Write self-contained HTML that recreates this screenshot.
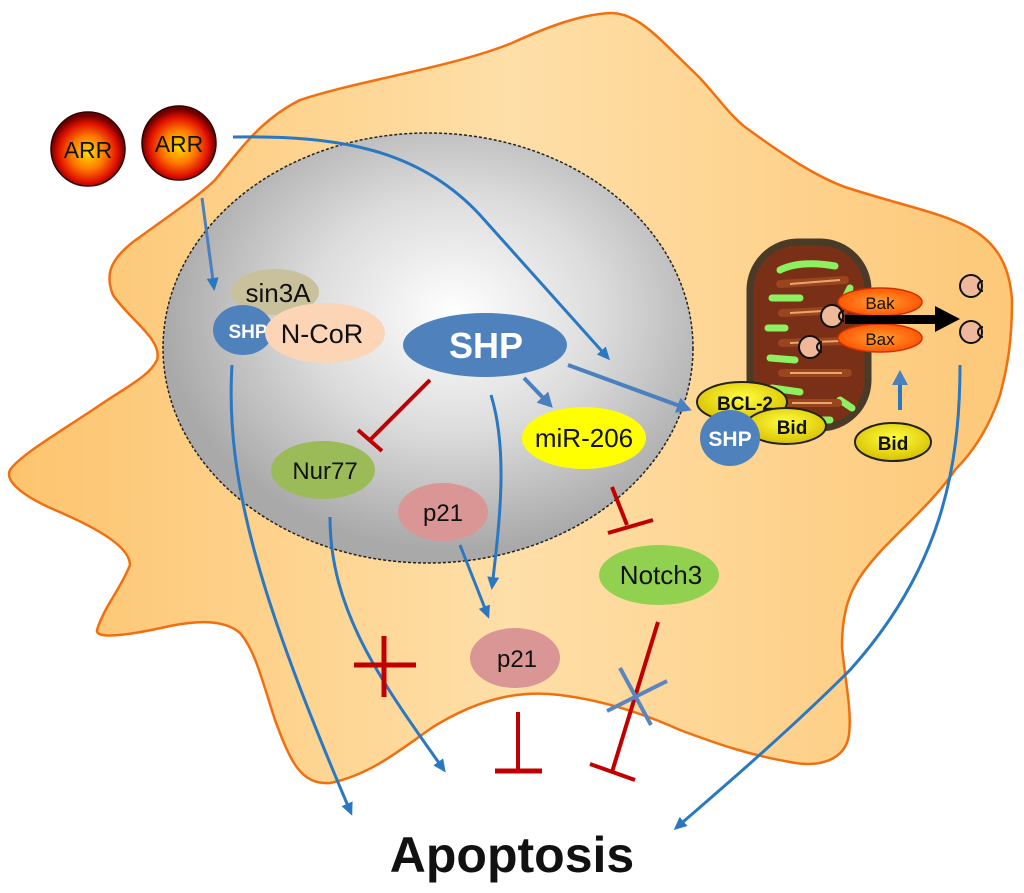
<!DOCTYPE html>
<html><head><meta charset="utf-8"><style>
html,body{margin:0;padding:0;background:#fff;}
svg{display:block;}
text{font-family:"Liberation Sans","DejaVu Sans",sans-serif;}
</style></head><body>
<svg width="1024" height="893" viewBox="0 0 1024 893" xmlns="http://www.w3.org/2000/svg">
<defs>
<radialGradient id="arr" cx="50%" cy="55%" r="50%">
<stop offset="0" stop-color="#ffe000"/><stop offset="0.45" stop-color="#ff7a00"/><stop offset="0.8" stop-color="#e01000"/><stop offset="1" stop-color="#700000"/>
</radialGradient>
<radialGradient id="nuc" cx="55%" cy="42%" r="55%">
<stop offset="0" stop-color="#ffffff"/><stop offset="0.5" stop-color="#dcdcdc"/><stop offset="1" stop-color="#a9a9a9"/>
</radialGradient>
<linearGradient id="cyto" x1="0" y1="0" x2="1" y2="0">
<stop offset="0" stop-color="#fdc46e"/><stop offset="0.5" stop-color="#fedfa8"/><stop offset="1" stop-color="#fdc878"/>
</linearGradient>
<radialGradient id="bak" cx="50%" cy="50%" r="55%">
<stop offset="0" stop-color="#ffa030"/><stop offset="1" stop-color="#ff5000"/>
</radialGradient>
<radialGradient id="yel" cx="50%" cy="40%" r="60%">
<stop offset="0" stop-color="#ffff40"/><stop offset="1" stop-color="#d8c000"/>
</radialGradient>
<marker id="ah" markerWidth="16" markerHeight="16" refX="10" refY="6" orient="auto" markerUnits="userSpaceOnUse">
<path d="M0,0 L13,6 L0,12 Z" fill="#2a78c2"/>
</marker>
<marker id="ah2" markerWidth="18" markerHeight="18" refX="11" refY="8" orient="auto" markerUnits="userSpaceOnUse">
<path d="M0,0 L15,8 L0,16 Z" fill="#4a7fc0"/>
</marker>
</defs>

<!-- cell -->
<path d="M512,43 C545,28 580,14 612,13 C640,14 660,40 699,77 C720,100 730,115 745,127 C790,160 820,178 845,187 C900,205 940,212 970,228 C1000,245 1010,270 1012,300 C1012,340 1008,365 1000,395 C990,425 975,450 955,470 C935,500 900,530 879,553 C855,580 842,600 842,647 C845,680 852,710 849,735 C845,760 820,768 790,762 C750,755 720,745 680,730 C640,712 600,700 560,695 C520,690 480,698 433,727 C400,750 370,775 330,783 C300,785 290,760 275,720 C262,680 255,650 240,633 C225,620 200,620 170,626 C130,635 95,640 97,630 C105,605 120,590 130,565 C130,545 90,525 55,510 C20,495 5,480 10,470 C20,455 60,432 100,405 C130,385 150,375 157,360 C163,340 130,320 113,295 C105,275 110,260 133,242 C170,215 200,195 215,180 C240,150 260,120 300,100 C360,80 450,68 512,43 Z" fill="url(#cyto)" stroke="#f26f10" stroke-width="2.5"/>

<!-- nucleus -->
<ellipse cx="428" cy="348" rx="265" ry="215" fill="url(#nuc)" stroke="#222" stroke-width="1.5" stroke-dasharray="3,2"/>

<!-- ARR -->
<circle cx="88" cy="149" r="37" fill="url(#arr)" stroke="#300" stroke-width="1.5"/>
<text x="88" y="158" font-size="23" text-anchor="middle" fill="#111">ARR</text>
<circle cx="179" cy="143" r="37" fill="url(#arr)" stroke="#300" stroke-width="1.5"/>
<text x="179" y="152" font-size="23" text-anchor="middle" fill="#111">ARR</text>

<!-- mitochondria -->
<rect x="750" y="242" width="118" height="186" rx="48" fill="#7a3016" stroke="#4a3a28" stroke-width="7"/>
<g stroke="#8df060" stroke-width="7" fill="none" stroke-linecap="round">
<path d="M780,270 Q800,260 835,266"/><path d="M772,298 L800,298"/><path d="M768,328 L785,328"/><path d="M770,358 L795,360"/><path d="M772,388 L800,392"/><path d="M845,298 L850,288"/><path d="M840,400 L852,408"/><path d="M790,420 L830,420"/>
</g>
<g stroke="#9a4420" stroke-width="8" fill="none" stroke-linecap="round">
<path d="M780,284 L845,280"/><path d="M782,313 L845,310"/><path d="M782,343 L845,341"/><path d="M782,373 L848,373"/><path d="M786,403 L838,403"/>
</g>
<g stroke="#e8a868" stroke-width="2" fill="none">
<path d="M790,284 L840,280"/><path d="M790,313 L840,310"/><path d="M790,343 L840,341"/><path d="M790,373 L842,373"/><path d="M792,403 L832,403"/>
</g>

<ellipse cx="880" cy="302" rx="42" ry="14" fill="url(#bak)" stroke="#d03000" stroke-width="1.5"/>
<ellipse cx="880" cy="338" rx="42" ry="14" fill="url(#bak)" stroke="#d03000" stroke-width="1.5"/>
<path d="M845,315 L935,315 L935,306 L960,319 L935,332 L935,324 L845,324 Z" fill="#000"/>
<text x="880" y="309" font-size="17" text-anchor="middle" fill="#111">Bak</text>
<text x="880" y="345" font-size="17" text-anchor="middle" fill="#111">Bax</text>

<g fill="#f0b89a" stroke="#111" stroke-width="2">
<circle cx="832" cy="316" r="11"/><circle cx="810" cy="347" r="11"/><circle cx="971" cy="286" r="11"/><circle cx="971" cy="332" r="11"/>
</g>
<g fill="none" stroke="#111" stroke-width="2">
<path d="M844,311 a5,5 0 1,0 0,10"/><path d="M822,342 a5,5 0 1,0 0,10"/><path d="M983,281 a5,5 0 1,0 0,10"/><path d="M983,327 a5,5 0 1,0 0,10"/>
</g>

<ellipse cx="742" cy="402" rx="45" ry="20" fill="url(#yel)" stroke="#222" stroke-width="2"/>
<text x="745" y="410" font-size="19" font-weight="bold" text-anchor="middle" fill="#111">BCL-2</text>
<ellipse cx="786" cy="426" rx="40" ry="18" fill="url(#yel)" stroke="#222" stroke-width="2"/>
<text x="792" y="434" font-size="19" font-weight="bold" text-anchor="middle" fill="#111">Bid</text>
<ellipse cx="730" cy="438" rx="30" ry="28" fill="#4f81bd"/>
<text x="730" y="446" font-size="21" font-weight="bold" text-anchor="middle" fill="#fff">SHP</text>
<ellipse cx="893" cy="442" rx="38" ry="19" fill="url(#yel)" stroke="#222" stroke-width="2"/>
<text x="893" y="450" font-size="19" font-weight="bold" text-anchor="middle" fill="#111">Bid</text>
<line x1="900" y1="410" x2="900" y2="374" stroke="#2a78c2" stroke-width="4" marker-end="url(#ah2)"/>

<!-- nuclear nodes -->
<ellipse cx="275" cy="292" rx="44" ry="23" fill="#c9c09c"/>
<ellipse cx="243" cy="330" rx="30" ry="25" fill="#4f81bd"/>
<text x="248" y="338" font-size="19" font-weight="bold" text-anchor="middle" fill="#fff">SHP</text>
<text x="278" y="302" font-size="26" text-anchor="middle" fill="#111">sin3A</text>
<ellipse cx="325" cy="333" rx="60" ry="30" fill="#fbd5b5"/>
<text x="322" y="343" font-size="27" text-anchor="middle" fill="#111">N-CoR</text>
<ellipse cx="485" cy="345" rx="82" ry="32" fill="#4f81bd"/>
<text x="486" y="358" font-size="36" font-weight="bold" text-anchor="middle" fill="#fff">SHP</text>
<ellipse cx="323" cy="470" rx="52" ry="29" fill="#9bbb59"/>
<text x="325" y="479" font-size="24" text-anchor="middle" fill="#111">Nur77</text>
<ellipse cx="443" cy="512" rx="45" ry="29" fill="#d99694"/>
<text x="443" y="521" font-size="24" text-anchor="middle" fill="#111">p21</text>
<ellipse cx="584" cy="438" rx="62" ry="31" fill="#ffff00"/>
<text x="584" y="447" font-size="26" text-anchor="middle" fill="#111">miR-206</text>
<ellipse cx="659" cy="575" rx="60" ry="30" fill="#92d050"/>
<text x="661" y="584" font-size="26" text-anchor="middle" fill="#111">Notch3</text>
<ellipse cx="515" cy="658" rx="45" ry="30" fill="#d99694"/>
<text x="517" y="667" font-size="24" text-anchor="middle" fill="#111">p21</text>

<!-- blue arrows -->
<g stroke="#2a78c2" stroke-width="3" fill="none">
<path d="M233,137 C340,135 420,150 480,215 L608,358" marker-end="url(#ah)"/>
<path d="M202,198 L214,288" stroke="#4a7fc0" marker-end="url(#ah)"/>
<path d="M232,365 C225,480 260,600 351,813" marker-end="url(#ah)"/>
<path d="M330,517 C330,610 380,680 444,770" marker-end="url(#ah)"/>
<path d="M460,545 L488,616" marker-end="url(#ah)"/>
<path d="M491,395 C508,450 500,520 492,587" marker-end="url(#ah)"/>
<path d="M960,365 C960,470 940,570 850,670 C790,730 720,790 676,828" marker-end="url(#ah)"/>
</g>
<g stroke="#4a7fc0" stroke-width="4" fill="none">
<path d="M524,378 L550,405" marker-end="url(#ah2)"/>
<path d="M568,365 L688,409" marker-end="url(#ah2)"/>
</g>

<!-- red inhibition -->
<g stroke="#c00000" stroke-width="4" fill="none">
<path d="M430,380 L370,440"/><path d="M358,430 L382,451"/>
<path d="M612,487 L627,525"/><path d="M608,533 L653,520"/>
<path d="M658,622 L612,772"/><path d="M590,764 L635,780"/>
<path d="M518,712 L518,770"/><path d="M495,771 L542,771" stroke-width="5"/>
<path d="M384,636 L384,697" stroke-width="5"/><path d="M354,665 L416,665" stroke-width="5"/>
</g>
<g stroke="#5a85c0" stroke-width="4">
<line x1="620" y1="668" x2="651" y2="725"/>
<line x1="607" y1="711" x2="667" y2="681"/>
</g>

<text x="512" y="872" font-size="50" font-weight="bold" text-anchor="middle" fill="#111">Apoptosis</text>
</svg>
</body></html>
